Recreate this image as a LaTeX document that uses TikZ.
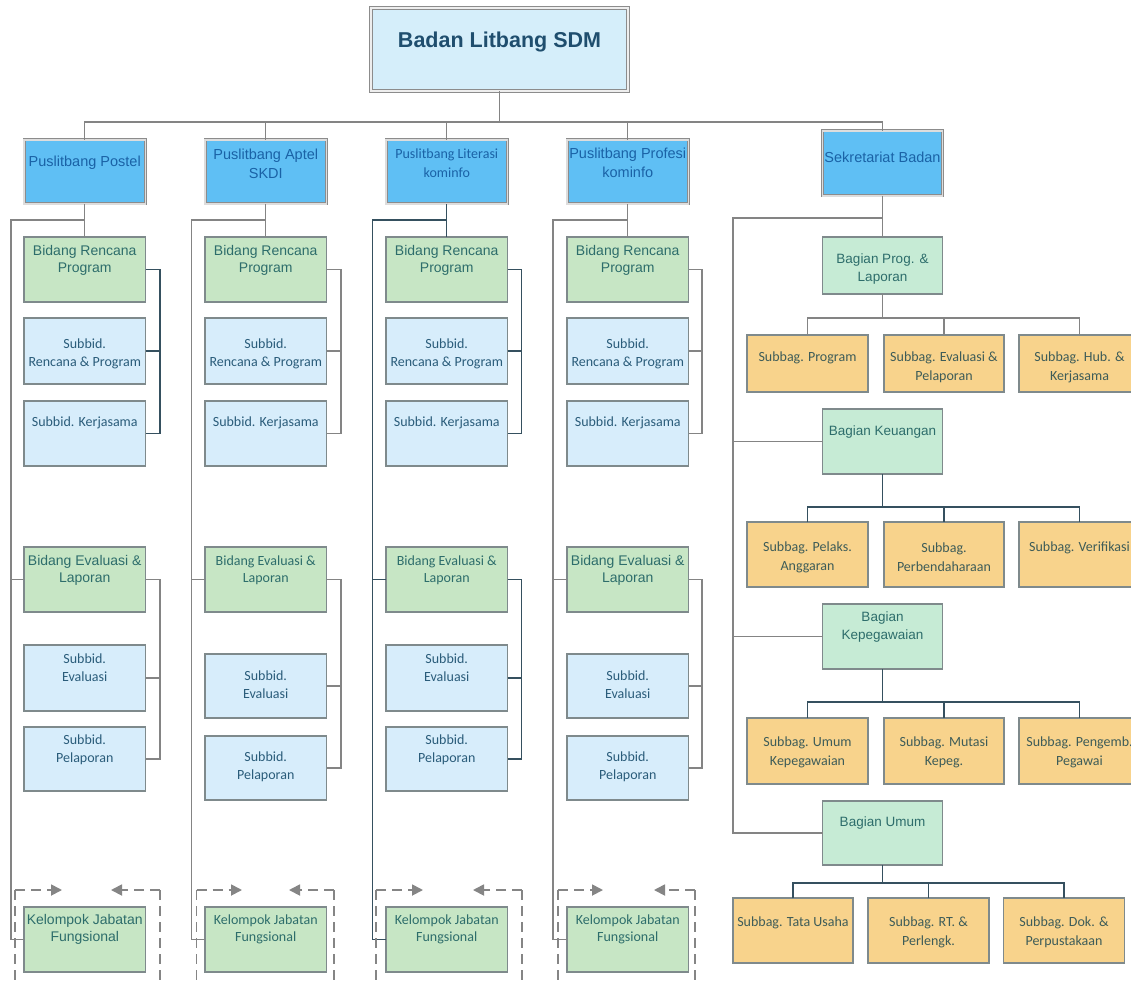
\documentclass[tikz,border=0pt]{standalone}
\usepackage{fontspec}
\setmainfont{Liberation Sans}
\newfontfamily\calf{Carlito}
\usetikzlibrary{arrows.meta}
\definecolor{topfill}{HTML}{D5EEFA}
\definecolor{topborder}{HTML}{8C8C8C}
\definecolor{lvfill}{HTML}{5FBFF4}
\definecolor{greenfill}{HTML}{C7E6C5}
\definecolor{mintfill}{HTML}{C6EBD5}
\definecolor{subfill}{HTML}{D7EDFB}
\definecolor{orfill}{HTML}{F8D38C}
\definecolor{bordergray}{HTML}{7F8A8C}
\definecolor{linegray}{HTML}{848484}
\definecolor{linedark}{HTML}{35505F}
\definecolor{toptext}{HTML}{1F4E6E}
\definecolor{lvtext}{HTML}{1A62A6}
\definecolor{greentext}{HTML}{2D6D6B}
\definecolor{subtext}{HTML}{2A5C7A}
\definecolor{ortext}{HTML}{3E5C58}
\definecolor{dashgray}{HTML}{858585}
\tikzset{
 boxbase/.style={rectangle, inner sep=0pt, outer sep=0pt},
 topbox/.style={boxbase, fill=topfill, draw=topborder, line width=0.9pt, double=white!85!topborder, double distance=1.3pt},
 lvbox/.style={boxbase, fill=lvfill, draw=topborder, line width=0.9pt, double=white!70!topborder, double distance=1.2pt},
 gbox/.style={boxbase, fill=greenfill, draw=bordergray, line width=1.1pt},
 mbox/.style={boxbase, fill=mintfill, draw=bordergray, line width=1.1pt},
 sbox/.style={boxbase, fill=subfill, draw=bordergray, line width=1.1pt},
 obox/.style={boxbase, fill=orfill, draw=bordergray, line width=1.1pt},
 txtbase/.style={inner sep=0pt, align=center},
 toptxt/.style={txtbase, font=\bfseries\fontsize{21.5}{25}\selectfont, text=toptext},
 lvtxt/.style={txtbase, font=\fontsize{14.5}{19}\selectfont, text=lvtext},
 lvtxtc/.style={txtbase, font=\calf\fontsize{14}{19}\selectfont, text=lvtext},
 gtxt/.style={txtbase, font=\fontsize{14}{17.5}\selectfont, text=greentext},
 gtxtc/.style={txtbase, font=\calf\fontsize{14}{17.5}\selectfont, text=greentext},
 stxt/.style={txtbase, font=\calf\fontsize{14}{18}\selectfont, text=subtext},
 otxt/.style={txtbase, font=\calf\fontsize{14}{19}\selectfont, text=ortext},
 mtxt/.style={txtbase, font=\fontsize{13.5}{18}\selectfont, text=greentext},
 conn/.style={draw=linegray, line width=1.1pt},
 connd/.style={draw=linedark, line width=1.1pt},
 dashln/.style={draw=dashgray, line width=1.8pt, dash pattern=on 10pt off 6pt},
 dasharr/.style={dashln, -{Triangle[length=11pt,width=11pt]}},
}
% name, box style, text style, cx, cy, w, h, text y, text
\newcommand{\bx}[9]{%
 \node[#2, minimum width=#6pt, minimum height=#7pt] (#1) at (#4,#5) {};
 \node[#3] (#1-t) at (#4,#8) {#9};
}
% suffix, cx, xl, xb, main style, bracket1 style, bracket2 style
\newcommand{\colwires}[7]{%
 \coordinate (j#1) at (#2,220);
 \coordinate (l#1) at (#3,220);
 \coordinate (b#1) at (#4,220);
 \draw[#5] (p#1.south) -- (r#1.north);
 \draw[#5] (j#1) -- (l#1) |- (k#1.west);
 \draw[#5] (l#1 |- e#1.west) -- (e#1.west);
 \draw[#6] (r#1.east) -- (r#1.east -| b#1) |- (sk#1.east);
 \draw[#6] (sr#1.east) -- (sr#1.east -| b#1);
 \draw[#7] (e#1.east) -- (e#1.east -| b#1) |- (sp#1.east);
 \draw[#7] (se#1.east) -- (se#1.east -| b#1);
}
% suffix, left x, right x, tip right arrow, tip left arrow
\newcommand{\kframe}[5]{%
 \coordinate (dl#1) at (#2,890); \coordinate (dr#1) at (#3,890);
 \coordinate (ta#1) at (#4,890); \coordinate (tb#1) at (#5,890);
 \coordinate (fl#1) at (#2,995); \coordinate (fr#1) at (#3,995);
 \draw[dasharr] (dl#1) -- (ta#1);
 \draw[dasharr] (dr#1) -- (tb#1);
 \draw[dashln] (dl#1) -- (fl#1);
 \draw[dashln] (dr#1) -- (fr#1);
}
\begin{document}
\begin{tikzpicture}[x=1pt,y=-1pt]
\useasboundingbox (0,0) rectangle (1131,984);
\clip (0,0) rectangle (1131,984);
\fill[white] (0,0) rectangle (1131,984);

% top
\bx{top}{topbox}{toptxt}{499.5}{49.5}{257}{83}{42}{Badan Litbang SDM}

% level 2
\bx{pa}{lvbox}{lvtxt}{84.75}{172}{121.5}{64}{163}{Puslitbang Postel}
\bx{pb}{lvbox}{lvtxt}{265.75}{172}{121.5}{64}{164}{Puslitbang Aptel\\SKDI}
\bx{pc}{lvbox}{lvtxtc}{446.75}{172}{121.5}{64}{163}{Puslitbang Literasi\\kominfo}
\bx{pd}{lvbox}{lvtxt}{627.75}{172}{121.5}{64}{163}{Puslitbang Profesi\\kominfo}
\bx{pe}{lvbox}{lvtxt}{882.5}{163.5}{120}{65}{157}{Sekretariat Badan}

\coordinate (jt) at (499.5,122);
\draw[conn] (top.south) -- (jt);
\draw[conn] (pa.north) |- (jt) -| (pe.north);
\draw[conn] (pb.north) -- (pb.north |- jt);
\draw[conn] (pc.north) -- (pc.north |- jt);
\draw[conn] (pd.north) -- (pd.north |- jt);

% column a
\bx{ra}{gbox}{gtxt}{84.75}{269.5}{121.5}{65}{260.5}{Bidang Rencana\\Program}
\bx{sra}{sbox}{stxt}{84.75}{351}{121.5}{66}{354}{Subbid.\\Rencana \& Program}
\bx{ska}{sbox}{stxt}{84.75}{433.5}{121.5}{65}{423}{Subbid. Kerjasama}
\bx{ea}{gbox}{gtxt}{84.75}{579.5}{121.5}{65}{570.5}{Bidang Evaluasi \&\\Laporan}
\bx{sea}{sbox}{stxt}{84.75}{678}{121.5}{66}{668}{Subbid.\\Evaluasi}
\bx{spa}{sbox}{stxt}{84.75}{759}{121.5}{64}{750}{Subbid.\\Pelaporan}
\bx{ka}{gbox}{gtxt}{84.75}{939.5}{121.5}{65}{929.5}{Kelompok Jabatan\\Fungsional}
\colwires{a}{84.75}{11}{160}{conn}{connd}{conn}
\kframe{a}{15}{160}{62}{111}

% column b
\bx{rb}{gbox}{gtxt}{265.75}{269.5}{121.5}{65}{260.5}{Bidang Rencana\\Program}
\bx{srb}{sbox}{stxt}{265.75}{351}{121.5}{66}{354}{Subbid.\\Rencana \& Program}
\bx{skb}{sbox}{stxt}{265.75}{433.5}{121.5}{65}{423}{Subbid. Kerjasama}
\bx{eb}{gbox}{gtxtc}{265.75}{579.5}{121.5}{65}{570.5}{Bidang Evaluasi \&\\Laporan}
\bx{seb}{sbox}{stxt}{265.75}{686}{121.5}{64}{685}{Subbid.\\Evaluasi}
\bx{spb}{sbox}{stxt}{265.75}{768}{121.5}{64}{767}{Subbid.\\Pelaporan}
\bx{kb}{gbox}{gtxtc}{265.75}{939.5}{121.5}{65}{929.5}{Kelompok Jabatan\\Fungsional}
\colwires{b}{265.75}{191.5}{341}{conn}{conn}{conn}
\kframe{b}{196.5}{334}{242}{289}

% column c
\bx{rc}{gbox}{gtxt}{446.75}{269.5}{121.5}{65}{260.5}{Bidang Rencana\\Program}
\bx{src}{sbox}{stxt}{446.75}{351}{121.5}{66}{354}{Subbid.\\Rencana \& Program}
\bx{skc}{sbox}{stxt}{446.75}{433.5}{121.5}{65}{423}{Subbid. Kerjasama}
\bx{ec}{gbox}{gtxtc}{446.75}{579.5}{121.5}{65}{570.5}{Bidang Evaluasi \&\\Laporan}
\bx{sec}{sbox}{stxt}{446.75}{678}{121.5}{66}{668}{Subbid.\\Evaluasi}
\bx{spc}{sbox}{stxt}{446.75}{759}{121.5}{64}{750}{Subbid.\\Pelaporan}
\bx{kc}{gbox}{gtxtc}{446.75}{939.5}{121.5}{65}{929.5}{Kelompok Jabatan\\Fungsional}
\colwires{c}{446.75}{372.5}{521.5}{connd}{connd}{connd}
\kframe{c}{376}{522}{423}{473}

% column d
\bx{rd}{gbox}{gtxt}{627.75}{269.5}{121.5}{65}{260.5}{Bidang Rencana\\Program}
\bx{srd}{sbox}{stxt}{627.75}{351}{121.5}{66}{354}{Subbid.\\Rencana \& Program}
\bx{skd}{sbox}{stxt}{627.75}{433.5}{121.5}{65}{423}{Subbid. Kerjasama}
\bx{ed}{gbox}{gtxt}{627.75}{579.5}{121.5}{65}{570.5}{Bidang Evaluasi \&\\Laporan}
\bx{sed}{sbox}{stxt}{627.75}{686}{121.5}{64}{685}{Subbid.\\Evaluasi}
\bx{spd}{sbox}{stxt}{627.75}{768}{121.5}{64}{767}{Subbid.\\Pelaporan}
\bx{kd}{gbox}{gtxtc}{627.75}{939.5}{121.5}{65}{929.5}{Kelompok Jabatan\\Fungsional}
\colwires{d}{627.75}{553}{702}{conn}{conn}{conn}
\kframe{d}{558}{695}{603}{654}

% sekretariat
\bx{bp}{mbox}{mtxt}{882.5}{265.5}{120}{57}{269.5}{Bagian Prog. \&\\Laporan}
\bx{s11}{obox}{otxt}{807.5}{363.5}{121}{57}{358}{Subbag. Program}
\bx{s12}{obox}{otxt}{944}{363.5}{120}{57}{367}{Subbag. Evaluasi \&\\Pelaporan}
\bx{s13}{obox}{otxt}{1079.5}{363.5}{121}{57}{367}{Subbag. Hub. \&\\Kerjasama}

\bx{bk}{mbox}{mtxt}{882.5}{441.5}{120}{65}{432}{Bagian Keuangan}
\bx{s21}{obox}{otxt}{807.5}{554.5}{121}{65}{557.5}{Subbag. Pelaks.\\Anggaran}
\bx{s22}{obox}{otxt}{944}{554.5}{120}{65}{557.5}{Subbag.\\Perbendaharaan}
\bx{s23}{obox}{otxt}{1079.5}{554.5}{121}{65}{548}{Subbag. Verifikasi}

\bx{bg}{mbox}{mtxt}{882.5}{636.5}{120}{65}{627}{Bagian\\Kepegawaian}
\bx{s31}{obox}{otxt}{807.5}{751}{121}{66}{752.5}{Subbag. Umum\\Kepegawaian}
\bx{s32}{obox}{otxt}{944}{751}{120}{66}{752.5}{Subbag. Mutasi\\Kepeg.}
\bx{s33}{obox}{otxt}{1079.5}{751}{121}{66}{752.5}{Subbag. Pengemb.\\Pegawai}

\bx{bu}{mbox}{mtxt}{882.5}{833}{120}{64}{823}{Bagian Umum}
\bx{s41}{obox}{otxt}{793}{930.5}{120}{65}{923}{Subbag. Tata Usaha}
\bx{s42}{obox}{otxt}{928.5}{930.5}{121}{65}{932.5}{Subbag. RT. \&\\Perlengk.}
\bx{s43}{obox}{otxt}{1064}{930.5}{121}{65}{932.5}{Subbag. Dok. \&\\Perpustakaan}

\coordinate (js) at (882.5,218);
\coordinate (ls) at (733,218);
\draw[conn] (pe.south) -- (bp.north);
\draw[conn] (js) -- (ls) |- (bu.west);
\draw[conn] (ls |- bk.west) -- (bk.west);
\draw[conn] (ls |- bg.west) -- (bg.west);

\coordinate (ra1) at (882.5,318);
\draw[conn] (bp.south) -- (ra1);
\draw[conn] (s11.north) |- (ra1) -| (s13.north);
\draw[conn] (s12.north) -- (s12.north |- ra1);

\coordinate (ra2) at (882.5,507);
\draw[connd] (bk.south) -- (ra2);
\draw[connd] (s21.north) |- (ra2) -| (s23.north);
\draw[connd] (s22.north) -- (s22.north |- ra2);

\coordinate (ra3) at (882.5,702);
\draw[connd] (bg.south) -- (ra3);
\draw[connd] (s31.north) |- (ra3) -| (s33.north);
\draw[connd] (s32.north) -- (s32.north |- ra3);

\coordinate (ra4) at (882.5,883);
\draw[connd] (bu.south) -- (ra4);
\draw[connd] (s41.north) |- (ra4) -| (s43.north);
\draw[connd] (s42.north) -- (s42.north |- ra4);
\end{tikzpicture}
\end{document}
